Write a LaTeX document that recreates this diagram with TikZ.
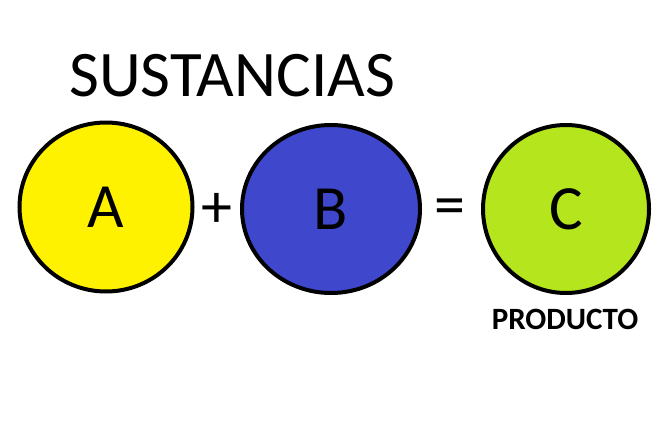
\documentclass[tikz,border=0pt]{standalone}
\usepackage{fontspec}
\setmainfont{Carlito}
\usepackage{tikz}
\usetikzlibrary{shapes.geometric, positioning}
\definecolor{PaintYellow}{RGB}{255,242,0}
\definecolor{PaintIndigo}{RGB}{63,72,204}
\definecolor{PaintLime}{RGB}{181,230,29}

\begin{document}
\begin{tikzpicture}[x=1pt, y=-1pt,
    sustancia/.style={ellipse, draw=black, line width=4pt, inner sep=0pt,
        font=\fontsize{63}{63}\selectfont},
    signo/.style={font=\fontsize{62}{62}\selectfont, inner sep=0pt}]
        \useasboundingbox (0,0) rectangle (660,436);
        % Title
        \node [font=\fontsize{65}{65}\selectfont, anchor=base, inner sep=0pt] (titulo) at (232,96) {SUSTANCIAS};
        % Substances
        \node [sustancia, fill=PaintYellow, minimum width=173pt, minimum height=169pt] (A) at (106,207) {A};
        \node [sustancia, fill=PaintIndigo, minimum width=178pt, minimum height=168pt] (B) at (331,209) {B};
        \node [sustancia, fill=PaintLime, minimum width=166pt, minimum height=168pt] (C) at (566,209) {C};
        % Signs
        \node [signo] (mas) at (217,210) {+};
        \node [signo] (igual) at (450,212) {=};
        % Label of the product
        \node [font=\bfseries\fontsize{31}{31}\selectfont, anchor=base, inner sep=0pt] (producto) at (565,329) {PRODUCTO};
    \end{tikzpicture}
\end{document}
